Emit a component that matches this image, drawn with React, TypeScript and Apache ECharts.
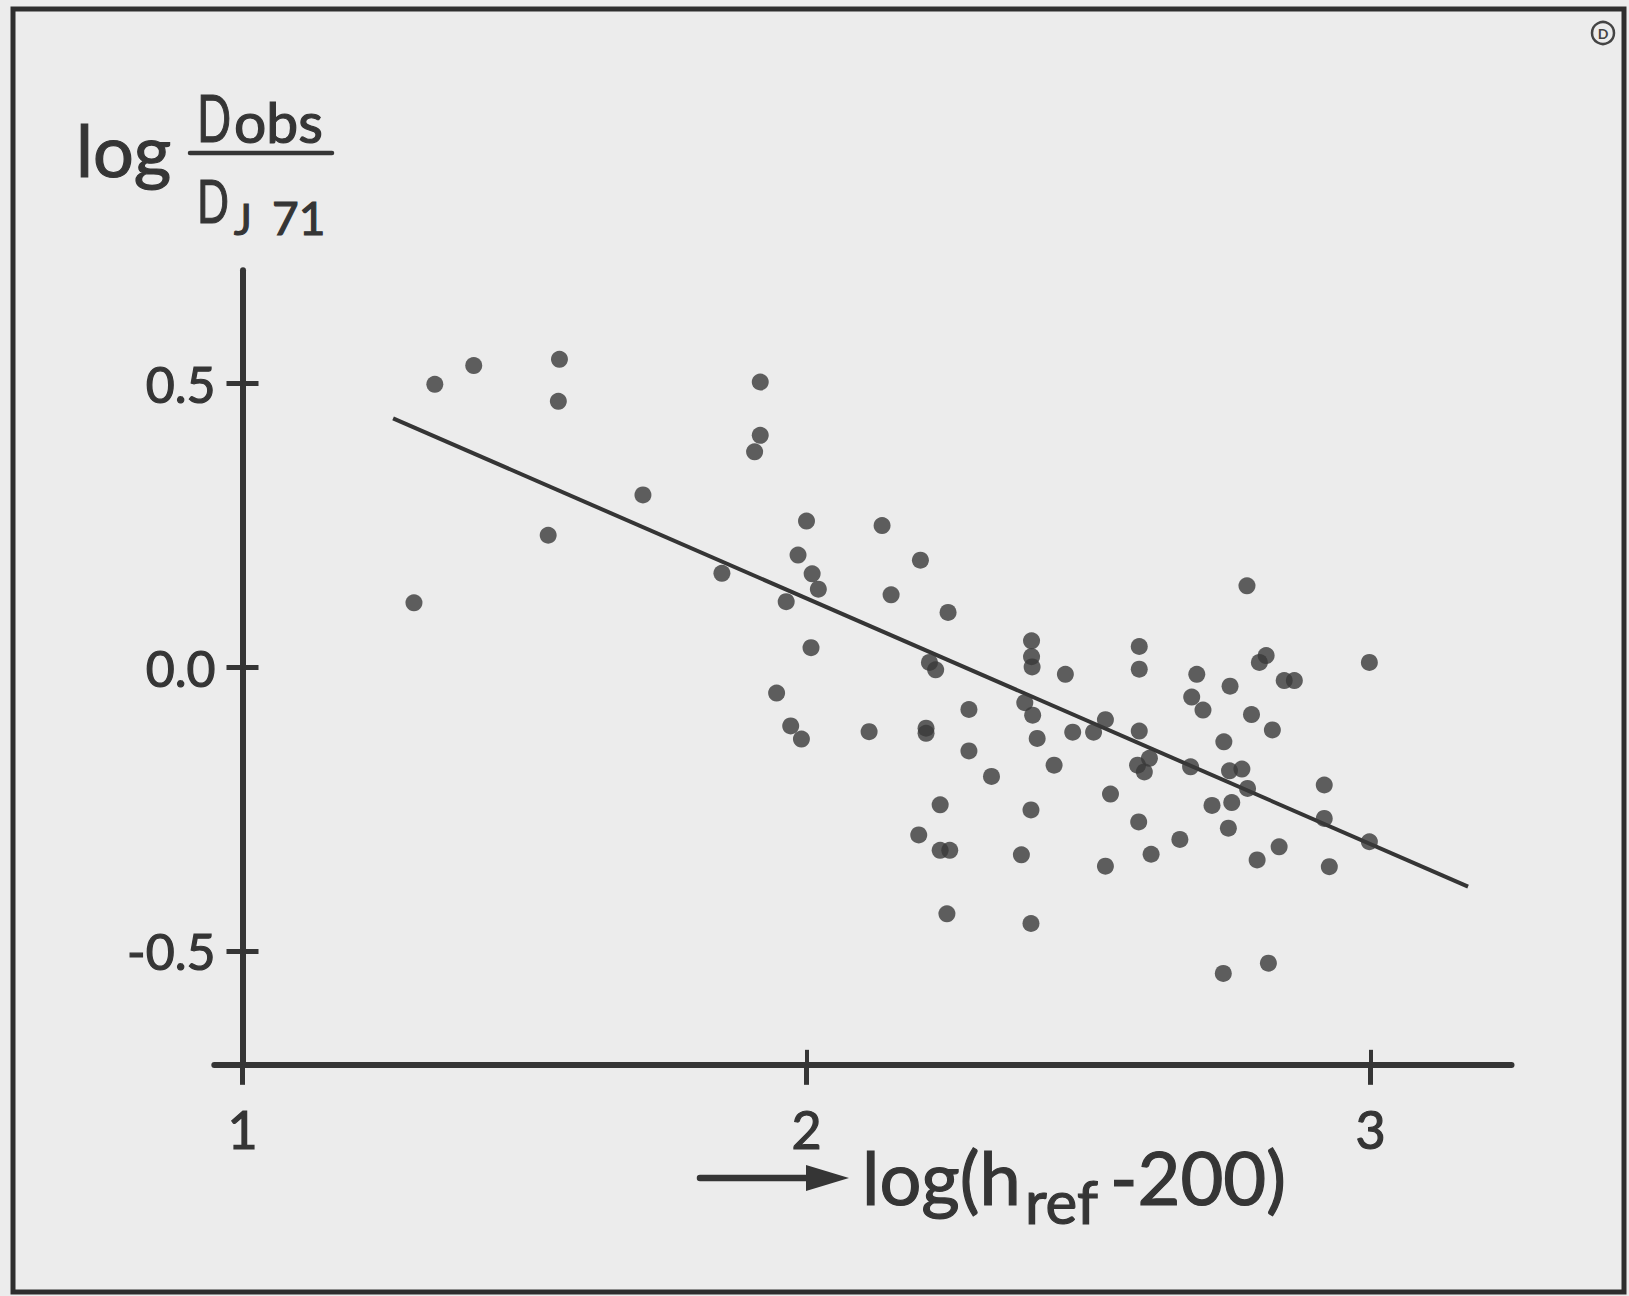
import React, { useEffect, useRef } from "react";
import * as echarts from "echarts";

// Scatter points: x = log(h_ref - 200), y = log(D_obs / D_J71)
const xValues = [
  1.304, 1.341, 1.41, 1.562, 1.56, 1.542, 1.71, 1.85, 1.918, 1.918,
  1.908, 2.0, 1.985, 2.01, 2.021, 1.964, 2.008, 1.947, 1.972, 1.991,
  2.134, 2.15, 2.202, 2.251, 2.218, 2.229, 2.111, 2.212, 2.212, 2.288,
  2.288, 2.328, 2.237, 2.199, 2.237, 2.254, 2.249, 2.399, 2.399, 2.4,
  2.459, 2.387, 2.401, 2.409, 2.439, 2.472, 2.509, 2.53, 2.398, 2.381,
  2.398, 2.539, 2.53, 2.59, 2.59, 2.59, 2.587, 2.608, 2.599, 2.589,
  2.611, 2.662, 2.681, 2.683, 2.692, 2.703, 2.719, 2.74, 2.751, 2.781,
  2.75, 2.772, 2.782, 2.754, 2.748, 2.789, 2.803, 2.815, 2.826, 2.847,
  2.865, 2.838, 2.799, 2.739, 2.819, 2.918, 2.918, 2.927, 2.998, 2.998,
];
const yValues = [
  0.114, 0.499, 0.532, 0.543, 0.469, 0.233, 0.304, 0.166, 0.503, 0.409,
  0.38, 0.258, 0.198, 0.165, 0.138, 0.116, 0.035, -0.045, -0.103, -0.126,
  0.25, 0.128, 0.189, 0.097, 0.009, -0.004, -0.113, -0.107, -0.116, -0.074,
  -0.147, -0.192, -0.242, -0.295, -0.322, -0.322, -0.434, 0.047, 0.019, 0.001,
  -0.012, -0.062, -0.084, -0.125, -0.172, -0.114, -0.114, -0.092, -0.251, -0.33,
  -0.451, -0.223, -0.35, 0.037, -0.003, -0.112, -0.172, -0.16, -0.184, -0.272,
  -0.329, -0.303, -0.175, -0.052, -0.012, -0.075, -0.243, -0.131, -0.033, 0.144,
  -0.182, -0.179, -0.213, -0.238, -0.283, -0.083, 0.009, 0.021, -0.11, -0.023,
  -0.023, -0.316, -0.339, -0.539, -0.521, -0.207, -0.266, -0.351, 0.009, -0.307,
];

// Regression line end points
const fitLineX = [1.267, 3.173];
const fitLineY = [0.439, -0.386];

// Axis ticks
const xTickValues = [1, 2, 3];
const xInnerTickValues = [2, 3];
const yTickValues = [-0.5, 0, 0.5];

const INK = "#353535";
const FONT = "Lato";

export default function App() {
  const ref = useRef<HTMLDivElement>(null);

  useEffect(() => {
    if (!ref.current) return;
    const chart = echarts.init(ref.current, undefined, { renderer: "svg" });

    const pxPerX = 564;
    const zeroX = 242.5;
    const xMin = 0.95;
    const xMax = 3.25;
    const pxPerY = 567.6;
    const zeroY = 667.5;
    const yMin = -0.7;
    const yMax = 0.7;
    const gridLeft = zeroX - (1 - xMin) * pxPerX;
    const gridTop = zeroY - yMax * pxPerY;

    const scatterData = xValues.map((x, i) => [x, yValues[i]]);
    const lineData = fitLineX.map((x, i) => [x, fitLineY[i]]);

    const txt = (text: string, x: number, y: number, size: number, extra: any = {}, el: any = {}) => ({
      type: "text",
      x,
      y,
      ...el,
      style: {
        text,
        fontSize: size,
        fontFamily: FONT,
        fill: INK,
        stroke: INK,
        lineWidth: 1.2,
        align: "left",
        verticalAlign: "middle",
        ...extra,
      },
    });

    const labelStyle = {
      fontFamily: FONT,
      color: INK,
      textBorderColor: INK,
      textBorderWidth: 1.2,
    };

    chart.setOption({
      animation: false,
      backgroundColor: "#ececec",
      grid: {
        left: gridLeft,
        top: gridTop,
        width: (xMax - xMin) * pxPerX,
        height: (yMax - yMin) * pxPerY,
        containLabel: false,
        outerBoundsMode: "none",
      },
      xAxis: [
        {
          type: "value",
          min: xMin,
          max: xMax,
          position: "bottom",
          axisLine: { show: true, onZero: false, lineStyle: { color: INK, width: 6 } },
          axisTick: { show: true, customValues: xTickValues, length: 20, lineStyle: { color: INK, width: 5 } },
          axisLabel: {
            show: true,
            customValues: xTickValues,
            margin: 38,
            fontSize: 52,
            ...labelStyle,
            formatter: (v: number) => String(Math.round(v)),
          },
          splitLine: { show: false },
        },
        {
          type: "value",
          min: xMin,
          max: xMax,
          position: "bottom",
          axisLine: { show: false, onZero: false },
          axisTick: { show: true, inside: true, customValues: xInnerTickValues, length: 15, lineStyle: { color: INK, width: 4 } },
          axisLabel: { show: false },
          splitLine: { show: false },
        },
      ],
      yAxis: [
        {
          type: "value",
          min: yMin,
          max: yMax,
          position: "left",
          offset: -(zeroX - gridLeft),
          axisLine: { show: true, onZero: false, lineStyle: { color: INK, width: 6 } },
          axisTick: { show: true, customValues: yTickValues, length: 16, lineStyle: { color: INK, width: 5 } },
          axisLabel: {
            show: true,
            customValues: yTickValues,
            margin: 27,
            fontSize: 50,
            ...labelStyle,
            formatter: (v: number) => (Math.abs(v) < 1e-9 ? "0.0" : v.toFixed(1)),
          },
          splitLine: { show: false },
        },
        {
          type: "value",
          min: yMin,
          max: yMax,
          position: "left",
          offset: -(zeroX - gridLeft),
          axisLine: { show: false, onZero: false },
          axisTick: { show: true, inside: true, customValues: yTickValues, length: 16, lineStyle: { color: INK, width: 5 } },
          axisLabel: { show: false },
          splitLine: { show: false },
        },
      ],
      series: [
        {
          type: "line",
          data: lineData,
          xAxisIndex: 0,
          yAxisIndex: 0,
          symbol: "none",
          lineStyle: { color: INK, width: 4 },
          silent: true,
          z: 2,
        },
        {
          type: "scatter",
          data: scatterData,
          xAxisIndex: 0,
          yAxisIndex: 0,
          symbol: "circle",
          symbolSize: 17,
          itemStyle: { color: "#393939" },
          silent: true,
          z: 3,
        },
      ],
      graphic: [
        {
          type: "rect",
          shape: { x: 13, y: 9, width: 1611, height: 1283 },
          style: { fill: "none", stroke: "#2e2e2e", lineWidth: 5 },
          silent: true,
        },
        {
          type: "circle",
          shape: { cx: 1603, cy: 33, r: 11 },
          style: { fill: "none", stroke: "#444", lineWidth: 2.5 },
          silent: true,
        },
        txt("D", 1603, 33, 14, { fontWeight: "bold", align: "center", fill: "#444", lineWidth: 0 }),
        // y-axis title: log Dobs / DJ 71
        txt("log", 76, 149, 72),
        txt("D", 197, 116, 66, {}, { scaleX: 0.68 }),
        txt("obs", 234, 121, 57),
        {
          type: "line",
          shape: { x1: 190, y1: 153, x2: 332, y2: 153 },
          style: { stroke: INK, lineWidth: 4.5, lineCap: "round" },
          silent: true,
        },
        txt("D", 197, 200, 60, {}, { scaleX: 0.7 }),
        txt("J", 234, 219, 42),
        txt("71", 272, 217, 46),
        // x-axis title: -> log(h_ref - 200)
        {
          type: "line",
          shape: { x1: 700, y1: 1178, x2: 815, y2: 1178 },
          style: { stroke: INK, lineWidth: 6.5, lineCap: "round" },
          silent: true,
        },
        {
          type: "polygon",
          shape: { points: [[806, 1165], [849, 1178], [806, 1191]] },
          style: { fill: INK },
          silent: true,
        },
        txt("log(h", 862, 1176, 74),
        txt("ref", 1025, 1201, 60),
        txt("-200)", 1110, 1176, 74),
      ],
    });

    return () => {
      chart.dispose();
    };
  }, []);

  return (
    <div
      ref={ref}
      style={{ position: "absolute", left: 0, top: 0, width: 1629, height: 1296, background: "#f2f2f2" }}
    />
  );
}
